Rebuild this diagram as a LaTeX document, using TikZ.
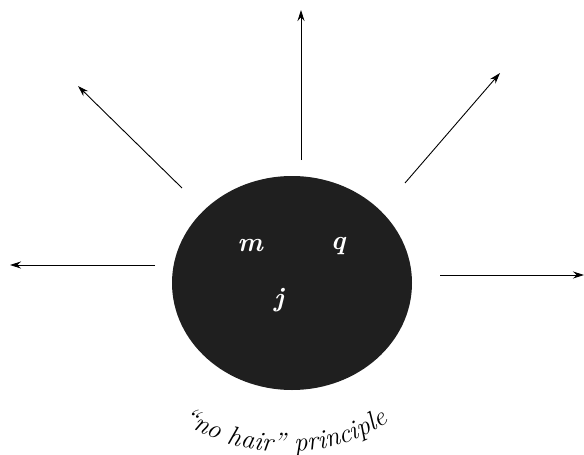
\documentclass[tikz,border=0pt]{standalone}
\usepackage{fontspec}
\usetikzlibrary{shapes.geometric,arrows.meta,decorations.text}
\begin{document}
\begin{tikzpicture}[x=1pt,y=-1pt,
  hair/.style={line width=0.9pt,-{Stealth[length=11pt,width=7pt]}},
  lbl/.style={text=white,font=\fontsize{27}{30}\selectfont\itshape\bfseries}]
\useasboundingbox (0,0) rectangle (584,455);
\node[ellipse,fill=black!88,minimum width=240pt,minimum height=214pt,inner sep=0pt] (bh) at (292,283) {};
\node[lbl] (m) at (250,246) {m};
\node[lbl] (q) at (338,246) {q};
\node[lbl] (j) at (279,300) {j};
\coordinate (s1) at (301,160); \coordinate (e1) at (301,10);
\coordinate (s2) at (182,188); \coordinate (e2) at (78,86);
\coordinate (s3) at (405,183); \coordinate (e3) at (500,73);
\coordinate (s4) at (155,265); \coordinate (e4) at (10,265);
\coordinate (s5) at (440,275); \coordinate (e5) at (584,275);
\draw[hair] (s1) -- (e1);
\draw[hair] (s2) -- (e2);
\draw[hair] (s3) -- (e3);
\draw[hair] (s4) -- (e4);
\draw[hair] (s5) -- (e5);
\path[decorate,decoration={text along path,text align=center,
  text={|\fontsize{27}{30}\selectfont\itshape|“no hair” principle}}]
  (152,398) .. controls (222,468) and (345,472) .. (418,398);
\end{tikzpicture}
\end{document}
